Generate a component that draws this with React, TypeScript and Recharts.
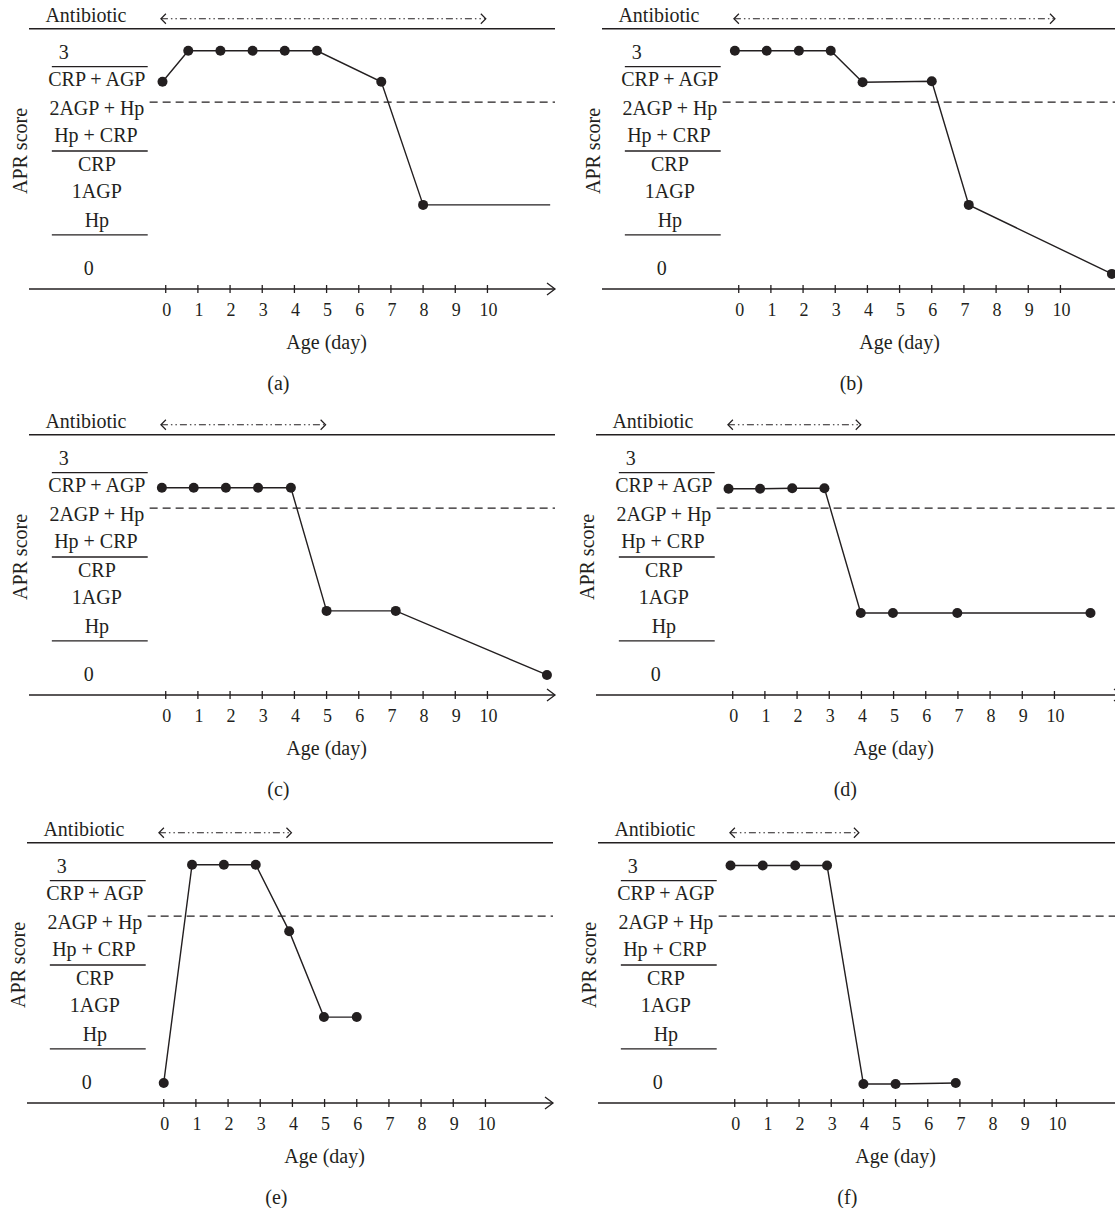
import React from 'react'
import { LineChart, Line, XAxis, YAxis, ReferenceLine, ReferenceDot } from 'recharts'

const FONT = '"Liberation Serif", "DejaVu Serif", serif'
const INK = '#231f20'

// x = age in days, y = APR score position (0 on the axis, 10 on the top rule)
const xDomain = [-4.25, 12.1]
const yDomain = [0, 11.1]
const dayTicks = [0, 1, 2, 3, 4, 5, 6, 7, 8, 9, 10]

// score legend on the left of every panel
const scoreLabels = [
  { text: '3', day: -3.17, y: 9.12 },
  { text: 'CRP + AGP', day: -2.14, y: 8.06 },
  { text: '2AGP + Hp', day: -2.14, y: 6.96 },
  { text: 'Hp + CRP', day: -2.17, y: 5.9 },
  { text: 'CRP', day: -2.14, y: 4.8 },
  { text: '1AGP', day: -2.14, y: 3.76 },
  { text: 'Hp', day: -2.14, y: 2.65 },
  { text: '0', day: -2.39, y: 0.8 },
]
const fractionRules = [8.54, 5.3, 2.08]
const fractionSpan = [-3.54, -0.56]
const cutoffScore = 7.18
const cutoffStart = -0.5
const topRule = 10
const antibioticRow = 10.38
const antibioticStart = -0.15
const titlePos = { day: -2.48, y: 10.54 }
const yTitlePos = { day: -4.53, y: 5.3 }
const xTitlePos = { day: 5, y: -2.04 }
const captionPos = { day: 3.5, y: -3.6 }

// panel (a)
const aDays = [-0.1, 0.7, 1.7, 2.7, 3.7, 4.7, 6.7, 8.0, 11.95]
const aScores = [7.96, 9.15, 9.15, 9.15, 9.15, 9.15, 7.96, 3.23, 3.23]
// panel (b)
const bDays = [-0.12, 0.87, 1.87, 2.86, 3.85, 6.0, 7.15, 11.6]
const bScores = [9.15, 9.15, 9.15, 9.15, 7.94, 7.98, 3.23, 0.58]
// panel (c)
const cDays = [-0.12, 0.87, 1.87, 2.87, 3.89, 5.0, 7.15, 11.85]
const cScores = [7.96, 7.96, 7.96, 7.96, 7.96, 3.23, 3.23, 0.77]
// panel (d)
const dDays = [-0.13, 0.85, 1.85, 2.85, 3.98, 4.98, 6.98, 11.12]
const dScores = [7.92, 7.92, 7.94, 7.94, 3.15, 3.15, 3.15, 3.15]
// panel (e)
const eDays = [0.0, 0.88, 1.87, 2.86, 3.9, 4.98, 6.0]
const eScores = [0.77, 9.15, 9.15, 9.15, 6.6, 3.3, 3.3]
// panel (f)
const fDays = [-0.13, 0.87, 1.88, 2.87, 4.0, 5.0, 6.87]
const fScores = [9.12, 9.12, 9.12, 9.12, 0.73, 0.73, 0.77]

type PanelSpec = {
  id: string
  left: number
  top: number
  days: number[]
  scores: number[]
  antibioticEnd: number
  openEnd?: boolean
}

const panels: PanelSpec[] = [
  { id: 'a', left: 0, top: 0, days: aDays, scores: aScores, antibioticEnd: 9.95, openEnd: true },
  { id: 'b', left: 573, top: 0, days: bDays, scores: bScores, antibioticEnd: 9.83 },
  { id: 'c', left: 0, top: 406, days: cDays, scores: cScores, antibioticEnd: 4.97 },
  { id: 'd', left: 567, top: 406, days: dDays, scores: dScores, antibioticEnd: 3.98 },
  { id: 'e', left: -2, top: 814, days: eDays, scores: eScores, antibioticEnd: 3.97 },
  { id: 'f', left: 569, top: 814, days: fDays, scores: fScores, antibioticEnd: 3.86 },
]

const W = 557
const H = 400

const textShape =
  (text: string, size = 20, angle = 0) =>
  (p: any) =>
    (
      <text
        x={p.cx}
        y={p.cy}
        textAnchor="middle"
        dominantBaseline="central"
        fontFamily={FONT}
        fontSize={size}
        fill={INK}
        transform={angle ? `rotate(${angle}, ${p.cx}, ${p.cy})` : undefined}
      >
        {text}
      </text>
    )

const DayTick = (p: any) => {
  const { x, y, payload } = p
  return (
    <g>
      <line x1={x} x2={x} y1={y - 4} y2={y + 4} stroke={INK} strokeWidth={1.3} />
      <text
        x={x + 1}
        y={y + 21}
        textAnchor="middle"
        dominantBaseline="central"
        fontFamily={FONT}
        fontSize={18}
        fill={INK}
      >
        {payload.value}
      </text>
    </g>
  )
}

const AxisArrow = (p: any) => {
  const { x1, y1, x2, y2 } = p
  return (
    <g>
      <line x1={x1} y1={y1} x2={x2} y2={y2} stroke={INK} strokeWidth={1.5} />
      <polyline
        points={`${x2 - 8},${y2 - 6} ${x2},${y2} ${x2 - 8},${y2 + 6}`}
        fill="none"
        stroke={INK}
        strokeWidth={1.3}
      />
    </g>
  )
}

const DoubleArrow = (p: any) => {
  const { x1, y1, x2, y2 } = p
  return (
    <g>
      <line
        x1={x1}
        y1={y1}
        x2={x2}
        y2={y2}
        stroke={INK}
        strokeWidth={1.2}
        strokeDasharray="7 3 1.5 3 1.5 3"
      />
      <polyline
        points={`${x1 + 5},${y1 - 5} ${x1},${y1} ${x1 + 5},${y1 + 5}`}
        fill="none"
        stroke={INK}
        strokeWidth={1.2}
      />
      <polyline
        points={`${x2 - 5},${y2 - 5} ${x2},${y2} ${x2 - 5},${y2 + 5}`}
        fill="none"
        stroke={INK}
        strokeWidth={1.2}
      />
    </g>
  )
}

const Panel: React.FC<{ spec: PanelSpec }> = ({ spec }) => {
  const rows = spec.days.map((d, i) => ({ day: d, score: spec.scores[i] }))
  const last = rows.length - 1

  return (
    <div style={{ position: 'absolute', left: spec.left, top: spec.top }}>
      <LineChart width={W} height={H} data={rows} margin={{ top: 0, right: 2, left: 29, bottom: 0 }}>
        <XAxis
          type="number"
          dataKey="day"
          domain={xDomain}
          ticks={dayTicks}
          allowDataOverflow
          interval={0}
          axisLine={false}
          tickLine={false}
          tickSize={0}
          tickMargin={0}
          tick={DayTick}
          height={111}
        />
        <YAxis hide type="number" domain={yDomain} allowDataOverflow />

        {/* header rule, x axis with arrow, cut-off line */}
        <ReferenceLine y={topRule} stroke={INK} strokeWidth={1.5} />
        <ReferenceLine y={0} shape={AxisArrow} />
        <ReferenceLine
          segment={[
            { x: cutoffStart, y: cutoffScore },
            { x: xDomain[1], y: cutoffScore },
          ]}
          stroke={INK}
          strokeWidth={1.2}
          strokeDasharray="8 5"
        />

        {/* antibiotic period */}
        <ReferenceLine
          segment={[
            { x: antibioticStart, y: antibioticRow },
            { x: spec.antibioticEnd, y: antibioticRow },
          ]}
          shape={DoubleArrow}
        />
        <ReferenceDot x={titlePos.day} y={titlePos.y} r={1} shape={textShape('Antibiotic')} />

        {/* score legend */}
        {fractionRules.map((v) => (
          <ReferenceLine
            key={`r${v}`}
            segment={[
              { x: fractionSpan[0], y: v },
              { x: fractionSpan[1], y: v },
            ]}
            stroke={INK}
            strokeWidth={1.3}
          />
        ))}
        {scoreLabels.map((l) => (
          <ReferenceDot key={l.text} x={l.day} y={l.y} r={1} shape={textShape(l.text)} />
        ))}

        {/* axis titles and caption */}
        <ReferenceDot
          x={yTitlePos.day}
          y={yTitlePos.y}
          r={1}
          ifOverflow="visible"
          shape={textShape('APR score', 20, -90)}
        />
        <ReferenceDot x={xTitlePos.day} y={xTitlePos.y} r={1} ifOverflow="visible" shape={textShape('Age (day)')} />
        <ReferenceDot
          x={captionPos.day}
          y={captionPos.y}
          r={1}
          ifOverflow="visible"
          shape={textShape(`(${spec.id})`)}
        />

        <Line
          type="linear"
          dataKey="score"
          stroke={INK}
          strokeWidth={1.4}
          isAnimationActive={false}
          activeDot={false}
          dot={(p: any) =>
            spec.openEnd && p.index === last ? (
              <g key={`d${p.index}`} />
            ) : (
              <circle key={`d${p.index}`} cx={p.cx} cy={p.cy} r={5} fill={INK} />
            )
          }
        />
      </LineChart>
    </div>
  )
}

export default function App() {
  return (
    <div
      style={{
        position: 'absolute',
        left: 0,
        top: 0,
        width: 1115,
        height: 1208,
        overflow: 'hidden',
        background: '#fff',
      }}
    >
      {panels.map((p) => (
        <Panel key={p.id} spec={p} />
      ))}
    </div>
  )
}
